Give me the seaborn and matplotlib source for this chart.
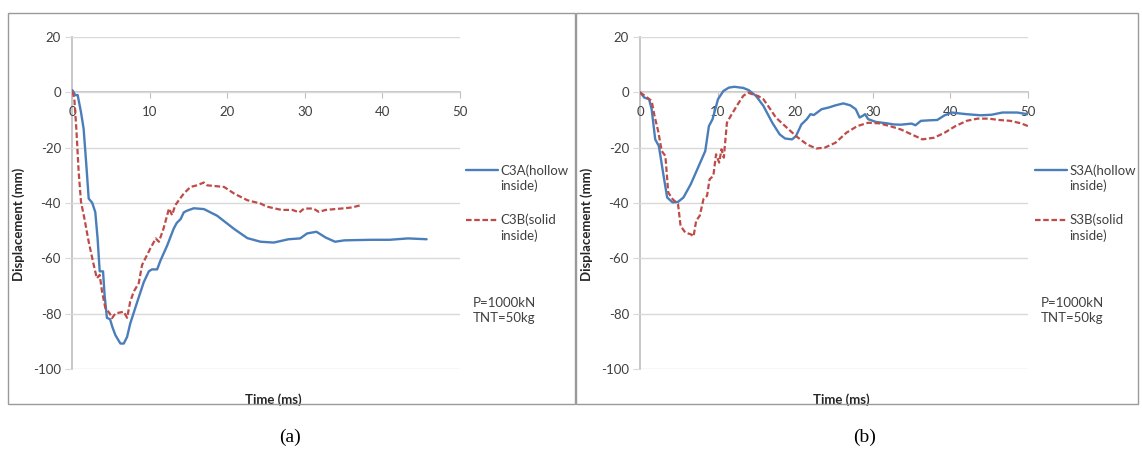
import matplotlib
matplotlib.use("Agg")
import matplotlib.pyplot as plt
import seaborn as sns
import pandas as pd
from matplotlib.patches import Rectangle

# ---------------- data ----------------
c3a_t = [0.0, 0.1, 0.4, 0.73, 1.16, 1.5, 1.85, 2.15, 2.6, 3.0, 3.3, 3.57, 4.0, 4.2, 4.5, 4.9, 5.2,
         5.6, 6.24, 6.67, 7.1, 7.5, 8.4, 9.25, 9.9, 10.3, 10.97, 11.4, 12.26, 13.1, 13.5, 14.0,
         14.4, 14.8, 15.7, 17.0, 18.7, 20.9, 22.6, 24.3, 26.0, 27.9, 29.4, 30.3, 31.5, 32.7,
         33.9, 35.1, 38.5, 40.9, 43.3, 45.7]
c3a_y = [0.8, 0.6, -1.0, -1.0, -7.2, -13.2, -26.4, -38.4, -39.9, -43.3, -52.9, -64.7, -64.7, -73.3,
         -81.5, -82.0, -84.8, -87.8, -90.8, -90.8, -88.4, -83.6, -75.8, -68.6, -64.7, -64.0, -64.0,
         -60.8, -55.4, -49.3, -47.2, -45.8, -43.4, -42.8, -41.9, -42.2, -44.6, -49.4, -52.7, -54.0,
         -54.3, -53.1, -52.8, -51.0, -50.4, -52.5, -54.0, -53.5, -53.3, -53.3, -52.8, -53.1]

c3b_t = [0.0, 0.1, 0.3, 0.56, 0.86, 1.16, 1.6, 2.15, 2.8, 3.2, 3.57, 3.87, 4.3, 4.86, 5.16, 5.6,
         6.67, 7.1, 7.5, 7.96, 8.6, 9.03, 10.1, 10.8, 11.2, 11.8, 12.5, 12.9, 13.3, 14.4, 15.27,
         16.1, 17.0, 17.4, 19.6, 20.9, 22.6, 24.3, 25.1, 27.0, 28.4, 29.3, 29.9, 31.1, 31.8, 32.7,
         34.7, 36.1, 37.2]
c3b_y = [0.0, 0.0, -2.4, -13.2, -28.8, -39.6, -45.6, -54.0, -62.4, -67.2, -66.0, -72.0, -78.0, -79.9,
         -81.6, -79.9, -79.3, -81.5, -75.7, -72.0, -69.0, -62.4, -56.4, -52.8, -54.0, -49.2, -42.0,
         -44.4, -40.8, -36.6, -34.2, -33.6, -32.6, -33.6, -34.2, -36.6, -39.0, -40.2, -41.3, -42.5,
         -42.5, -43.4, -42.0, -42.0, -43.2, -42.5, -42.0, -41.6, -40.8]

s3a_t = [0.0, 0.56, 1.17, 1.5, 1.96, 2.43, 3.04, 3.5, 4.2, 4.9, 5.6, 6.54, 7.48, 8.41, 8.88, 9.35,
         10.05, 10.75, 11.45, 12.15, 13.3, 14.0, 14.95, 15.9, 17.05, 18.0, 18.7, 19.6, 20.1, 20.8,
         21.5, 21.96, 22.4, 23.4, 24.3, 25.2, 26.2, 27.1, 27.8, 28.3, 28.7, 29.0, 29.4, 30.4, 31.8,
         32.7, 33.6, 35.0, 35.5, 36.2, 37.4, 38.3, 39.25, 40.2, 41.1, 42.1, 43.9, 45.3, 46.7, 48.6,
         50.0]
s3a_y = [0.0, -1.9, -2.5, -6.1, -17.0, -19.4, -30.2, -38.0, -39.8, -39.6, -38.0, -33.2, -27.2, -21.2,
         -12.2, -9.7, -2.5, 0.5, 1.7, 2.0, 1.6, 0.8, -1.3, -4.9, -11.0, -15.2, -16.7, -17.0, -15.8,
         -11.6, -9.7, -7.9, -8.2, -6.1, -5.5, -4.7, -4.0, -4.7, -6.1, -9.1, -8.5, -7.9, -9.7, -10.7,
         -11.2, -11.6, -11.7, -11.3, -11.9, -10.3, -10.1, -10.0, -8.3, -7.3, -7.6, -7.9, -8.3, -8.1,
         -7.3, -7.3, -7.9]

s3b_t = [0.0, 0.93, 1.5, 1.87, 2.34, 2.8, 3.27, 3.64, 4.2, 4.9, 5.23, 5.84, 6.54, 6.9, 7.24, 7.7,
         8.18, 8.64, 8.97, 9.45, 9.8, 10.2, 10.5, 10.8, 11.2, 11.7, 12.6, 13.3, 13.9, 14.5, 15.2,
         15.9, 16.8, 17.5, 18.7, 20.1, 21.5, 22.7, 23.8, 25.2, 26.6, 28.0, 29.4, 30.8, 32.2, 33.6,
         35.0, 36.4, 37.9, 39.25, 40.65, 42.1, 43.5, 44.9, 46.3, 47.7, 49.1, 50.0]
s3b_y = [0.0, -1.9, -3.1, -8.5, -14.0, -21.2, -23.0, -36.2, -38.6, -40.4, -48.3, -50.7, -51.3, -52.1,
         -46.4, -44.6, -38.6, -37.4, -31.4, -30.2, -22.4, -25.4, -20.6, -23.6, -11.0, -8.5, -4.3,
         -1.3, -0.1, -0.7, -1.3, -2.5, -6.1, -9.1, -12.2, -15.8, -18.8, -20.3, -20.0, -18.2, -14.6,
         -12.2, -11.0, -11.2, -12.2, -13.4, -15.2, -17.0, -16.4, -14.6, -12.2, -10.3, -9.5, -9.5,
         -10.0, -10.3, -11.2, -12.2]

x_ticks = [0, 10, 20, 30, 40, 50]
y_ticks = [20, 0, -20, -40, -60, -80, -100]
left_labels = ["C3A(hollow\ninside)", "C3B(solid\ninside)"]
right_labels = ["S3A(hollow\ninside)", "S3B(solid\ninside)"]
note_text = "P=1000kN\nTNT=50kg"
captions = ["(a)", "(b)"]
xlabel = "Time (ms)"
ylabel = "Displacement (mm)"

# ---------------- style ----------------
sns.set_theme(style="white")
plt.rcParams["font.family"] = ["Lato", "DejaVu Sans"]
plt.rcParams["axes.unicode_minus"] = False

BLUE = "#4a7ebb"
RED = "#be4b48"
GRID = "#d9d9d9"
AX = "#bfbfbf"
TXT = "#404040"
FS = 9.5

W, H = 1142, 450
fig = plt.figure(figsize=(W / 100, H / 100), dpi=100)


def fx(px):
    return px / W


def fy(py):
    return 1 - py / H


# panel frames
for x0, x1 in [(8, 575), (576, 1138)]:
    fig.add_artist(Rectangle((fx(x0), fy(404)), fx(x1 - x0), (404 - 13) / H,
                             fill=False, edgecolor="#9a9a9a", lw=1.0,
                             transform=fig.transFigure))

panels = [
    dict(left=72, t1=c3a_t, y1=c3a_y, t2=c3b_t, y2=c3b_y, labels=left_labels,
         leg_x=466, note_x=473, cap_x=290),
    dict(left=640, t1=s3a_t, y1=s3a_y, t2=s3b_t, y2=s3b_y, labels=right_labels,
         leg_x=1035, note_x=1041, cap_x=865),
]

for i, p in enumerate(panels):
    ax = fig.add_axes([fx(p["left"]), fy(369), fx(388), 332 / H])
    df1 = pd.DataFrame({"t": p["t1"], "y": p["y1"]})
    df2 = pd.DataFrame({"t": p["t2"], "y": p["y2"]})
    sns.lineplot(data=df1, x="t", y="y", ax=ax, color=BLUE, lw=1.7,
                 sort=False, estimator=None, label=p["labels"][0])
    sns.lineplot(data=df2, x="t", y="y", ax=ax, color=RED, lw=1.6,
                 sort=False, estimator=None, label=p["labels"][1],
                 linestyle=(0, (2.5, 1.2)))
    ax.set_xlim(0, 50)
    ax.set_ylim(-100, 20)
    ax.set_xticks(x_ticks)
    ax.set_yticks(y_ticks)
    ax.yaxis.grid(True, color=GRID, lw=1.0)
    ax.xaxis.grid(False)
    ax.set_axisbelow(True)
    for s in ["top", "right"]:
        ax.spines[s].set_visible(False)
    ax.spines["bottom"].set_position(("data", 0))
    ax.spines["bottom"].set_color(AX)
    ax.spines["left"].set_color(AX)
    ax.spines["bottom"].set_zorder(0.5)
    ax.spines["left"].set_zorder(0.5)
    ax.tick_params(axis="x", direction="out", length=4, width=0.8, color=AX,
                   labelsize=FS, labelcolor=TXT, pad=6, bottom=True)
    ax.tick_params(axis="y", direction="out", length=5, width=0.8, color=GRID,
                   labelsize=FS, labelcolor=TXT, pad=3, left=True)
    ax.set_xlabel(xlabel, fontsize=FS, fontweight="bold", color="#262626")
    ax.set_ylabel(ylabel, fontsize=FS, fontweight="bold", color="#262626")
    ax.xaxis.set_label_coords(0.52, -0.072)
    ax.yaxis.set_label_coords(-0.12, 0.437)
    leg = ax.legend(loc="upper left", bbox_to_anchor=(fx(p["leg_x"]), fy(164)),
                    bbox_transform=fig.transFigure, frameon=False, fontsize=FS,
                    handlelength=2.4, handletextpad=0.2, labelspacing=1.6,
                    borderpad=0, borderaxespad=0)
    for t in leg.get_texts():
        t.set_color(TXT)
        t.set_linespacing(1.3)
    # align the legend sample lines with the first text line, as in the original
    for ln in leg.get_lines():
        ln.set_ydata([v + 5.8 for v in ln.get_ydata()])
    fig.text(fx(p["note_x"]), fy(297), note_text, fontsize=FS, color=TXT,
             ha="left", va="top", linespacing=1.3)
    fig.text(fx(p["cap_x"]), fy(437), captions[i],
             family=["Liberation Serif", "DejaVu Serif"], fontsize=14,
             ha="center", va="center", color="black")

fig.savefig("out.png", dpi=100, facecolor="white")
